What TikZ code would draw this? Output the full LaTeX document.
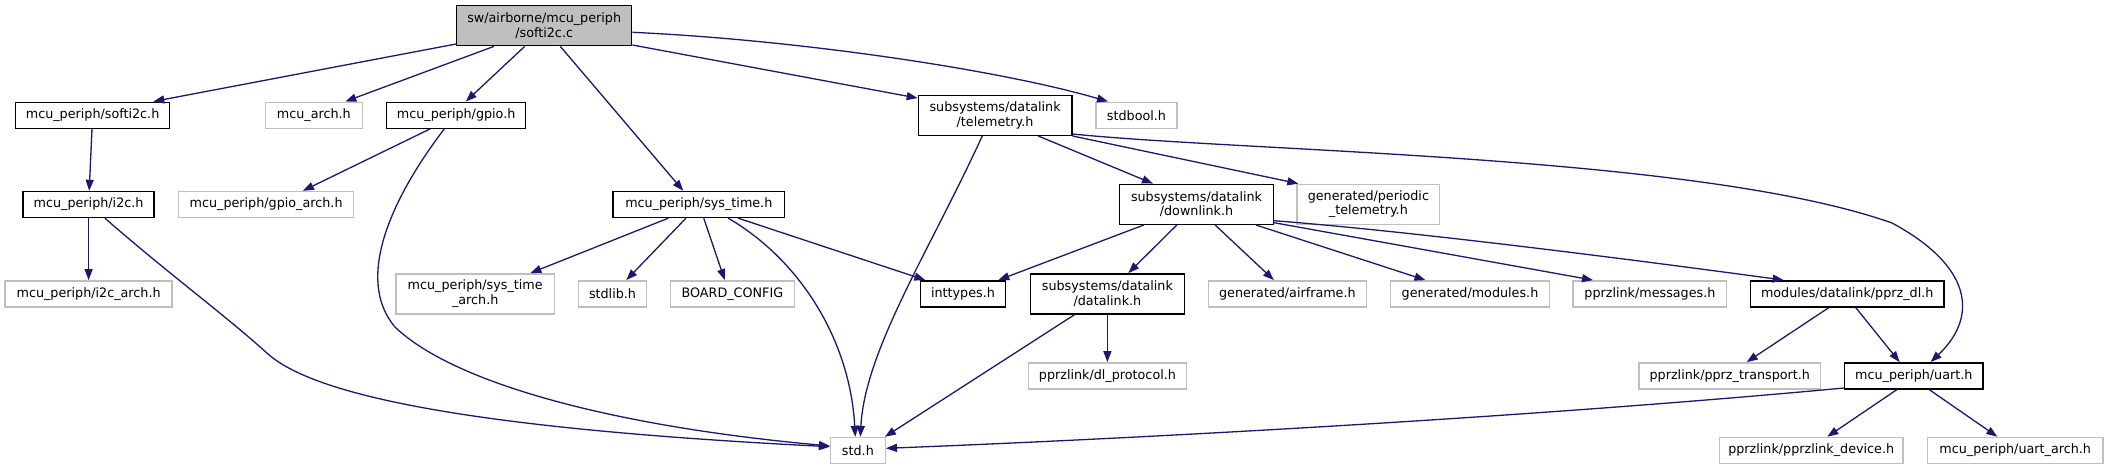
\documentclass[tikz,border=0pt]{standalone}
\usepackage{fontspec}
\setmainfont[FakeStretch=0.98]{DejaVu Sans}
\usetikzlibrary{arrows.meta}
\definecolor{edgeblue}{HTML}{191970}
\definecolor{grayb}{HTML}{BFBFBF}
\begin{document}
\begin{tikzpicture}[x=1pt,y=-1pt,
  box/.style={draw=black, line width=1.4pt, rectangle, inner sep=1pt, align=center,
    font=\fontsize{13}{14.5}\selectfont, minimum height=26pt},
  gbox/.style={box, draw=grayb},
  dbl/.style={minimum height=40pt},
  dep/.style={draw=edgeblue, line width=1.3pt, -{Triangle[length=11pt,width=8pt]}},
]
\useasboundingbox (0,0) rectangle (2108,469);

% rank 0
\node[box, dbl, fill=grayb, minimum width=175pt] (root) at (544.2,25.7) {sw/airborne/mcu\_periph\\/softi2c.c};
% rank 1
\node[box, minimum width=154pt] (softi2ch) at (92.6,115.2) {mcu\_periph/softi2c.h};
\node[gbox, minimum width=97pt] (mcuarch) at (313.8,115.2) {mcu\_arch.h};
\node[box, minimum width=139pt] (gpioh) at (456.2,115.2) {mcu\_periph/gpio.h};
\node[box, dbl, minimum width=153.5pt] (telem) at (995.1,115.3) {subsystems/datalink\\/telemetry.h};
\node[gbox, minimum width=81pt] (stdbool) at (1136.5,115.2) {stdbool.h};
% rank 2
\node[box, minimum width=131pt] (i2ch) at (88.6,204.5) {mcu\_periph/i2c.h};
\node[gbox, minimum width=175pt] (gpioarch) at (266.1,204.5) {mcu\_periph/gpio\_arch.h};
\node[box, minimum width=171.7pt] (systime) at (698.8,204.5) {mcu\_periph/sys\_time.h};
\node[box, dbl, minimum width=153.7pt] (downlink) at (1196.5,204.3) {subsystems/datalink\\/downlink.h};
\node[gbox, dbl, minimum width=142.7pt] (periodic) at (1368.4,204.3) {generated/periodic\\\_telemetry.h};
% rank 3
\node[gbox, minimum width=167pt] (i2carch) at (88.6,293.8) {mcu\_periph/i2c\_arch.h};
\node[gbox, dbl, minimum width=158.7pt] (systimearch) at (475.2,293.8) {mcu\_periph/sys\_time\\\_arch.h};
\node[gbox, minimum width=67.8pt] (stdlib) at (612.5,293.8) {stdlib.h};
\node[gbox, minimum width=124pt] (boardcfg) at (732.4,293.8) {BOARD\_CONFIG};
\node[box, minimum width=85.2pt] (inttypes) at (963,293.8) {inttypes.h};
\node[box, dbl, minimum width=153.6pt] (datalink) at (1107.4,293.8) {subsystems/datalink\\/datalink.h};
\node[gbox, minimum width=158.3pt] (airframe) at (1287.4,293.8) {generated/airframe.h};
\node[gbox, minimum width=158.7pt] (modules) at (1470,293.8) {generated/modules.h};
\node[gbox, minimum width=153.6pt] (messages) at (1649.9,293.8) {pprzlink/messages.h};
\node[box, minimum width=193.7pt] (pprzdl) at (1847.2,293.8) {modules/datalink/pprz\_dl.h};
% rank 4
\node[gbox, minimum width=157.6pt] (dlproto) at (1107.4,375.8) {pprzlink/dl\_protocol.h};
\node[gbox, minimum width=181.5pt] (pprztrans) at (1729.8,375.8) {pprzlink/pprz\_transport.h};
\node[box, minimum width=138.1pt] (uart) at (1913.8,375.8) {mcu\_periph/uart.h};
% rank 5
\node[gbox, minimum width=54.6pt] (stdh) at (857.9,450.5) {std.h};
\node[gbox, minimum width=183.4pt] (pprzdev) at (1811.2,450.4) {pprzlink/pprzlink\_device.h};
\node[gbox, minimum width=175.2pt] (uartarch) at (2015.2,450.4) {mcu\_periph/uart\_arch.h};

% edges from root
\draw[dep] ([yshift=2.4pt]root.south west) -- ([xshift=138.4pt]softi2ch.north west);
\draw[dep] ([xshift=37.9pt]root.south west) -- ([xshift=80.7pt]mcuarch.north west);
\draw[dep] ([xshift=68.7pt]root.south west) -- ([xshift=79.8pt]gpioh.north west);
\draw[dep] ([xshift=104.3pt]root.south west) -- ([xshift=71pt]systime.north west);
\draw[dep] ([yshift=1.4pt]root.south east) -- ([yshift=-3.5pt]telem.north west);
\draw[dep] ([yshift=-6.6pt]root.east) .. controls (800,40) and (1000,70) .. ([xshift=12.7pt]stdbool.north west);
% softi2c / i2c
\draw[dep] (softi2ch) -- (i2ch);
\draw[dep] (i2ch) -- (i2carch);
\draw[dep] ([xshift=82.5pt]i2ch.south west) .. controls (170,275) and (225,315) .. (268,354)
   .. controls (320,400) and (500,430) .. ([yshift=3.8pt]stdh.west);
% gpio
\draw[dep] ([xshift=44.1pt]gpioh.south west) -- ([xshift=125pt]gpioarch.north west);
\draw[dep] ([xshift=58.3pt]gpioh.south west) .. controls (390,200) and (355,280) .. (395,327)
   .. controls (450,380) and (600,425) .. ([yshift=4.5pt]stdh.west);
% sys_time
\draw[dep] ([xshift=56pt]systime.south west) -- ([xshift=135.2pt]systimearch.north west);
\draw[dep] ([xshift=73.7pt]systime.south west) -- ([xshift=48.4pt]stdlib.north west);
\draw[dep] ([xshift=91.5pt]systime.south west) -- ([xshift=55pt]boardcfg.north west);
\draw[dep] ([xshift=116pt]systime.south west) .. controls (800,260) and (850,340) .. ([xshift=25.4pt]stdh.north west);
\draw[dep] ([xshift=126pt]systime.south west) -- ([xshift=5.6pt]inttypes.north west);
% telemetry
\draw[dep] ([xshift=64.6pt]telem.south west) .. controls (930,250) and (865,350) .. ([xshift=30.4pt]stdh.north west);
\draw[dep] ([xshift=120.6pt]telem.south west) -- ([xshift=34pt]downlink.north west);
\draw[dep] (telem.south east) -- ([xshift=2pt]periodic.north west);
\draw[dep] ([yshift=2pt]telem.south east) .. controls (1250,152) and (1700,155) .. (1892,223)
   .. controls (1970,265) and (1980,315) .. ([xshift=86.6pt]uart.north west);
% downlink
\draw[dep] ([xshift=24.8pt]downlink.south west) -- ([xshift=78.6pt]inttypes.north west);
\draw[dep] ([xshift=57.9pt]downlink.south west) -- ([xshift=98.4pt]datalink.north west);
\draw[dep] ([xshift=96.2pt]downlink.south west) -- ([xshift=66.3pt]airframe.north west);
\draw[dep] ([xshift=137pt]downlink.south west) -- ([xshift=35.5pt]modules.north west);
\draw[dep] ([yshift=2.3pt]downlink.south east) -- ([xshift=20.6pt]messages.north west);
\draw[dep] ([yshift=4.3pt]downlink.south east) .. controls (1420,232) and (1650,262) .. ([xshift=34pt]pprzdl.north west);
% datalink
\draw[dep] ([xshift=44.9pt]datalink.south west) -- ([xshift=-1pt]stdh.north east);
\draw[dep] (datalink) -- (dlproto);
% pprz_dl
\draw[dep] ([xshift=79.3pt]pprzdl.south west) -- ([xshift=108.3pt]pprztrans.north west);
\draw[dep] ([xshift=106pt]pprzdl.south west) -- ([xshift=55.6pt]uart.north west);
% uart
\draw[dep] ([yshift=1.5pt]uart.south west) .. controls (1500,420) and (1100,440) .. ([yshift=2.2pt]stdh.east);
\draw[dep] ([xshift=53pt]uart.south west) -- ([xshift=108.5pt]pprzdev.north west);
\draw[dep] ([xshift=85pt]uart.south west) -- ([xshift=70.4pt]uartarch.north west);
\end{tikzpicture}
\end{document}
